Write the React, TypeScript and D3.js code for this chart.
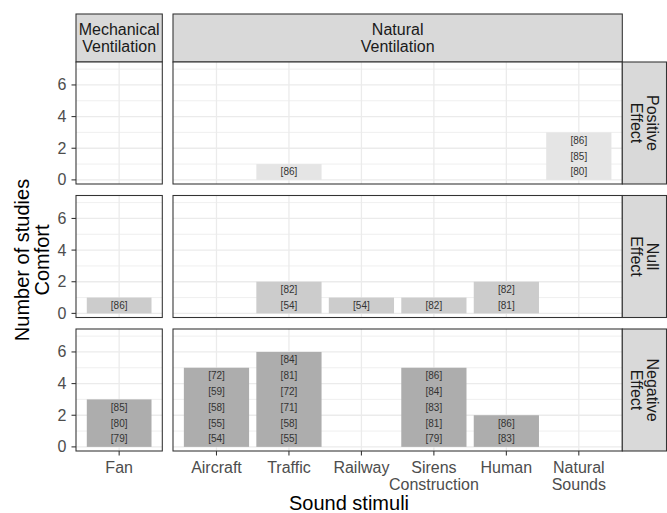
import React from "react";
import * as d3 from "d3";

// ---- Data ----
const ventilationTypes = ["Mechanical\nVentilation", "Natural\nVentilation"];
const mechanicalStimuli = ["Fan"];
const naturalStimuli = ["Aircraft", "Traffic", "Railway", "Sirens\nConstruction", "Human", "Natural\nSounds"];
const effects = ["Positive\nEffect", "Null\nEffect", "Negative\nEffect"];
const yTicks = [0, 2, 4, 6];
const yMinor = [1, 3, 5, 7];

// study references per stimulus (Fan, Aircraft, Traffic, Railway, Sirens/Construction, Human, Natural Sounds)
const positiveRefs: number[][] = [[], [], [86], [], [], [], [80, 85, 86]];
const nullRefs: number[][] = [[86], [], [54, 82], [54], [82], [81, 82], []];
const negativeRefs: number[][] = [[79, 80, 85], [54, 55, 58, 59, 72], [55, 58, 71, 72, 81, 84], [], [79, 81, 83, 84, 86], [83, 86], []];

const effectRefs = [positiveRefs, nullRefs, negativeRefs];
const barColors = ["#e5e5e5", "#cccccc", "#adadad"];

export default function App() {
  const W = 667, H = 513;
  const cols = [
    { cats: mechanicalStimuli, x0: 76, x1: 162.3, offset: 0 },
    { cats: naturalStimuli, x0: 173, x1: 622.3, offset: 1 },
  ];
  const rowTops = [62, 195.5, 329];
  const rowH = 122;
  const stripTop = 14;
  const stripRight = 666.5;
  const font = "'Liberation Sans', Arial, sans-serif";

  const elements: React.ReactNode[] = [];

  // top strips
  cols.forEach((c, ci) => {
    const lines = ventilationTypes[ci].split("\n");
    elements.push(
      <g key={`ts${ci}`}>
        <rect x={c.x0} y={stripTop} width={c.x1 - c.x0} height={rowTops[0] - stripTop} fill="#d9d9d9" stroke="#333333" strokeWidth={1.07} />
        {lines.map((l, li) => (
          <text key={li} x={(c.x0 + c.x1) / 2} y={(stripTop + rowTops[0]) / 2 + (li - (lines.length - 1) / 2) * 17.3}
            textAnchor="middle" dominantBaseline="central" fontSize={16} fill="#1a1a1a">{l}</text>
        ))}
      </g>
    );
  });

  effects.forEach((eff, ri) => {
    const top = rowTops[ri];
    const bottom = top + rowH;
    const y = d3.scaleLinear().domain([-0.26, 7.45]).range([bottom, top]);
    cols.forEach((c, ci) => {
      const x = d3.scaleLinear().domain([0.4, c.cats.length + 0.6]).range([c.x0, c.x1]);
      const unit = x(1) - x(0);
      const g: React.ReactNode[] = [];
      g.push(<rect key="bg" x={c.x0} y={top} width={c.x1 - c.x0} height={rowH} fill="#ffffff" />);
      yMinor.forEach(t => g.push(<line key={`mn${t}`} x1={c.x0} x2={c.x1} y1={y(t)} y2={y(t)} stroke="#ebebeb" strokeWidth={0.8} />));
      yTicks.forEach(t => g.push(<line key={`mj${t}`} x1={c.x0} x2={c.x1} y1={y(t)} y2={y(t)} stroke="#ebebeb" strokeWidth={1.3} />));
      c.cats.forEach((_, k) => g.push(<line key={`vx${k}`} x1={x(k + 1)} x2={x(k + 1)} y1={top} y2={bottom} stroke="#ebebeb" strokeWidth={1.3} />));
      c.cats.forEach((_, k) => {
        const refs = effectRefs[ri][k + c.offset];
        if (!refs.length) return;
        const cx = x(k + 1);
        g.push(<rect key={`b${k}`} x={cx - 0.45 * unit} width={0.9 * unit} y={y(refs.length)} height={y(0) - y(refs.length)} fill={barColors[ri]} />);
        refs.forEach((r, j) => g.push(
          <text key={`t${k}-${j}`} x={cx} y={y(j + 0.5)} textAnchor="middle" dominantBaseline="central" fontSize={10} fill="#333333">[{r}]</text>
        ));
      });
      g.push(<rect key="border" x={c.x0} y={top} width={c.x1 - c.x0} height={rowH} fill="none" stroke="#333333" strokeWidth={1.07} />);
      // y axis on first column
      if (ci === 0) {
        yTicks.forEach(t => {
          g.push(<line key={`yt${t}`} x1={71.5} x2={c.x0} y1={y(t)} y2={y(t)} stroke="#333333" strokeWidth={1.07} />);
          g.push(<text key={`yl${t}`} x={66.5} y={y(t)} textAnchor="end" dominantBaseline="central" fontSize={16} fill="#4d4d4d">{t}</text>);
        });
      }
      // x axis on bottom row
      if (ri === effects.length - 1) {
        c.cats.forEach((cat, k) => {
          const cx = x(k + 1);
          g.push(<line key={`xt${k}`} x1={cx} x2={cx} y1={bottom} y2={bottom + 4.5} stroke="#333333" strokeWidth={1.07} />);
          cat.split("\n").forEach((l, li) => g.push(
            <text key={`xl${k}-${li}`} x={cx} y={472.5 + li * 17.5} textAnchor="middle" fontSize={16} fill="#4d4d4d">{l}</text>
          ));
        });
      }
      elements.push(<g key={`p${ri}-${ci}`}>{g}</g>);
    });
    // right strip
    const lines = eff.split("\n");
    const sx = (cols[1].x1 + stripRight) / 2;
    const sy = top + rowH / 2;
    elements.push(
      <g key={`rs${ri}`}>
        <rect x={cols[1].x1} y={top} width={stripRight - cols[1].x1} height={rowH} fill="#d9d9d9" stroke="#333333" strokeWidth={1.07} />
        <g transform={`translate(${sx},${sy}) rotate(90)`}>
          {lines.map((l, li) => (
            <text key={li} x={0} y={(li - (lines.length - 1) / 2) * 16.5} textAnchor="middle" dominantBaseline="central" fontSize={16} fill="#1a1a1a">{l}</text>
          ))}
        </g>
      </g>
    );
  });

  return (
    <svg width={W} height={H} style={{ position: "absolute", left: 0, top: 0 }} fontFamily={font}>
      <rect x={0} y={0} width={W} height={H} fill="#ffffff" />
      {elements}
      <text x={349} y={509.5} textAnchor="middle" fontSize={20} fill="#000000">Sound stimuli</text>
      <g transform={`translate(31.7,260) rotate(-90)`}>
        <text x={0} y={-10} textAnchor="middle" dominantBaseline="central" fontSize={20} fill="#000000">Number of studies</text>
        <text x={0} y={10} textAnchor="middle" dominantBaseline="central" fontSize={20} fill="#000000">Comfort</text>
      </g>
    </svg>
  );
}
